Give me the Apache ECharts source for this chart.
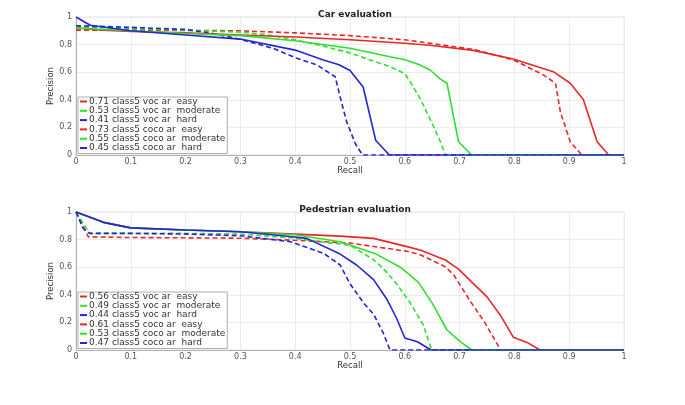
<!DOCTYPE html>
<html><head><meta charset="utf-8">
<script src="https://cdn.jsdelivr.net/npm/echarts@6/dist/echarts.min.js"></script>
<style>html,body{margin:0;padding:0;background:#fff}#c{width:685px;height:405px}</style>
</head><body><div id="c"></div>
<script>
// ---------- Car evaluation ----------
const carTitle = 'Car evaluation';
const carNames = ['0.71 class5 voc ar  easy','0.53 class5 voc ar  moderate','0.41 class5 voc ar  hard',
                  '0.73 class5 coco ar  easy','0.55 class5 coco ar  moderate','0.45 class5 coco ar  hard'];
const carVocEasyR = [0,0.1,0.2,0.3,0.4,0.5,0.6,0.646,0.725,0.798,0.853,0.875,0.884,0.902,0.923,1];
const carVocEasyP = [0.905,0.905,0.903,0.9,0.885,0.865,0.835,0.81,0.765,0.69,0.58,0.52,0.31,0.096,0,0];
const carVocModR = [0,0.1,0.2,0.3,0.35,0.4,0.45,0.5,0.543,0.573,0.6,0.61,0.628,0.652,0.665,0.674,1];
const carVocModP = [0.93,0.915,0.905,0.89,0.87,0.835,0.79,0.74,0.68,0.64,0.59,0.53,0.41,0.21,0.096,0,0];
const carVocHardR = [0,0.1,0.2,0.25,0.3,0.36,0.4,0.44,0.473,0.482,0.494,0.51,0.523,1];
const carVocHardP = [0.937,0.925,0.91,0.88,0.838,0.773,0.705,0.652,0.567,0.42,0.24,0.08,0,0];
const carCocoEasyR = [0,0.05,0.1,0.2,0.3,0.4,0.5,0.6,0.646,0.725,0.798,0.871,0.902,0.926,0.951,0.972,1];
const carCocoEasyP = [0.92,0.905,0.895,0.885,0.87,0.855,0.835,0.81,0.795,0.758,0.695,0.604,0.52,0.40,0.096,0,0];
const carCocoModR = [0,0.1,0.2,0.3,0.4,0.5,0.573,0.6,0.628,0.646,0.665,0.677,0.698,0.722,1];
const carCocoModP = [0.92,0.9,0.88,0.865,0.828,0.773,0.712,0.69,0.652,0.616,0.55,0.52,0.096,0,0];
const carCocoHardR = [0,0.026,0.1,0.2,0.3,0.4,0.45,0.48,0.5,0.524,0.547,0.572,1];
const carCocoHardP = [1.0,0.94,0.9,0.87,0.84,0.76,0.69,0.654,0.612,0.493,0.105,0,0];

// ---------- Pedestrian evaluation ----------
const pedTitle = 'Pedestrian evaluation';
const pedNames = ['0.56 class5 voc ar  easy','0.49 class5 voc ar  moderate','0.44 class5 voc ar  hard',
                  '0.61 class5 coco ar  easy','0.53 class5 coco ar  moderate','0.47 class5 coco ar  hard'];
const pedVocEasyR = [0,0.0225,0.1,0.2,0.3,0.4,0.5,0.604,0.628,0.65,0.675,0.69,0.72,0.745,0.775,1];
const pedVocEasyP = [1.0,0.82,0.815,0.813,0.81,0.795,0.775,0.715,0.69,0.65,0.60,0.54,0.35,0.205,0,0];
const pedVocModR = [0,0.025,0.1,0.2,0.3,0.4,0.445,0.5,0.543,0.561,0.585,0.61,0.634,0.643,0.649,1];
const pedVocModP = [1.0,0.845,0.845,0.845,0.84,0.81,0.785,0.76,0.655,0.59,0.48,0.34,0.18,0.07,0,0];
const pedVocHardR = [0,0.013,0.025,0.1,0.2,0.3,0.391,0.452,0.482,0.5,0.525,0.543,0.561,0.573,1];
const pedVocHardP = [1.0,0.882,0.845,0.845,0.84,0.828,0.785,0.70,0.616,0.48,0.34,0.26,0.12,0,0];
const pedCocoEasyR = [0,0.05,0.1,0.2,0.3,0.4,0.482,0.543,0.604,0.628,0.674,0.698,0.75,0.774,0.798,0.823,0.847,1];
const pedCocoEasyP = [1.0,0.925,0.885,0.87,0.857,0.84,0.825,0.809,0.749,0.725,0.652,0.586,0.385,0.254,0.093,0.055,0,0];
const pedCocoModR = [0,0.05,0.1,0.2,0.3,0.4,0.482,0.545,0.592,0.625,0.65,0.677,0.701,0.7225,1];
const pedCocoModP = [1.0,0.925,0.885,0.87,0.857,0.835,0.785,0.70,0.6,0.49,0.34,0.145,0.06,0,0];
const pedCocoHardR = [0,0.05,0.1,0.2,0.3,0.391,0.421,0.482,0.512,0.543,0.567,0.585,0.6,0.623,0.648,1];
const pedCocoHardP = [1.0,0.925,0.885,0.87,0.857,0.822,0.809,0.695,0.616,0.51,0.37,0.23,0.087,0.06,0,0];

const xTicksInterval = 0.1;
const yTicksInterval = 0.2;

const RED = '#e82828', GREEN = '#2ee02e', BLUE = '#2424d8';
const FONT = 'DejaVu Sans, Verdana, sans-serif';

function pairs(R, P) { return R.map((r, i) => [r, P[i]]); }
function mk(name, R, P, color, dashed, gi) {
  return {
    type: 'line', name: name, xAxisIndex: gi, yAxisIndex: gi,
    data: pairs(R, P), showSymbol: false, symbol: 'none', animation: false,
    lineStyle: { color: color, width: 1.6, type: dashed ? [5, 3] : 'solid' },
    itemStyle: { color: color }
  };
}
const series = [
  mk(carNames[0], carVocEasyR, carVocEasyP, RED, true, 0),
  mk(carNames[1], carVocModR, carVocModP, GREEN, true, 0),
  mk(carNames[2], carVocHardR, carVocHardP, BLUE, true, 0),
  mk(carNames[3], carCocoEasyR, carCocoEasyP, RED, false, 0),
  mk(carNames[4], carCocoModR, carCocoModP, GREEN, false, 0),
  mk(carNames[5], carCocoHardR, carCocoHardP, BLUE, false, 0),
  mk(pedNames[0], pedVocEasyR, pedVocEasyP, RED, true, 1),
  mk(pedNames[1], pedVocModR, pedVocModP, GREEN, true, 1),
  mk(pedNames[2], pedVocHardR, pedVocHardP, BLUE, true, 1),
  mk(pedNames[3], pedCocoEasyR, pedCocoEasyP, RED, false, 1),
  mk(pedNames[4], pedCocoModR, pedCocoModP, GREEN, false, 1),
  mk(pedNames[5], pedCocoHardR, pedCocoHardP, BLUE, false, 1)
];

function xAx(gi) {
  return {
    type: 'value', gridIndex: gi, min: 0, max: 1, interval: xTicksInterval,
    name: 'Recall', nameLocation: 'middle', nameGap: 11,
    nameTextStyle: { fontFamily: FONT, fontSize: 8.5, color: '#333' },
    nameMoveOverlap: false,
    axisLine: { show: true, lineStyle: { color: '#b0b0b0', width: 1 } },
    axisTick: { show: false },
    axisLabel: { margin: 3, fontFamily: FONT, fontSize: 8, color: '#555' },
    splitLine: { show: true, lineStyle: { color: '#ececec', width: 1 } }
  };
}
function yAx(gi) {
  return {
    type: 'value', gridIndex: gi, min: 0, max: 1, interval: yTicksInterval,
    name: 'Precision', nameLocation: 'middle', nameGap: 21, nameRotate: 90,
    nameTextStyle: { fontFamily: FONT, fontSize: 8.5, color: '#333' },
    nameMoveOverlap: false,
    axisLine: { show: true, lineStyle: { color: '#b0b0b0', width: 1 } },
    axisTick: { show: false },
    axisLabel: { margin: 4, fontFamily: FONT, fontSize: 8, color: '#555' },
    splitLine: { show: true, lineStyle: { color: '#ececec', width: 1 } }
  };
}
function leg(names, top) {
  return {
    data: names, orient: 'vertical', left: 78, top: top,
    icon: 'rect', itemWidth: 7, itemHeight: 2, itemGap: 0.3,
    padding: [0, 2, 1, 2], backgroundColor: '#fff',
    borderColor: '#999', borderWidth: 0.8, borderRadius: 0,
    selectedMode: false, z: 10,
    textStyle: { fontFamily: FONT, fontSize: 9, color: '#333', padding: [0, 0, 0, -3], lineHeight: 9 }
  };
}

const chart = echarts.init(document.getElementById('c'), null, { renderer: 'canvas' });
chart.setOption({
  backgroundColor: '#fff',
  animation: false,
  title: [
    { text: carTitle, left: 350, top: 5, textAlign: 'center',
      textStyle: { fontFamily: FONT, fontSize: 9, fontWeight: 'bold', color: '#222' } },
    { text: pedTitle, left: 350, top: 200, textAlign: 'center',
      textStyle: { fontFamily: FONT, fontSize: 9, fontWeight: 'bold', color: '#222' } }
  ],
  grid: [
    { left: 76, top: 17, width: 548, height: 138, show: true, borderColor: '#e6e6e6', borderWidth: 1, backgroundColor: 'transparent' },
    { left: 76, top: 212, width: 548, height: 138, show: true, borderColor: '#e6e6e6', borderWidth: 1, backgroundColor: 'transparent' }
  ],
  xAxis: [xAx(0), xAx(1)],
  yAxis: [yAx(0), yAx(1)],
  legend: [leg(carNames, 97), leg(pedNames, 292)],
  series: series
});
</script></body></html>
